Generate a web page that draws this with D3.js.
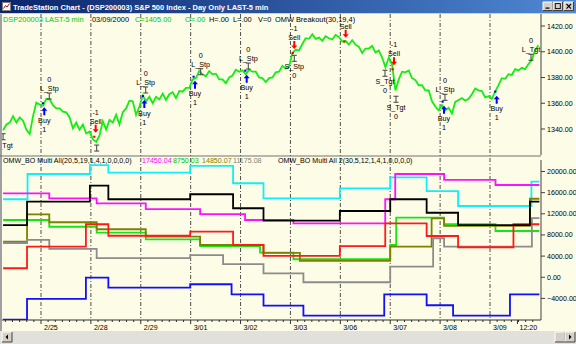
<!DOCTYPE html>
<html><head><meta charset="utf-8">
<script src="https://cdn.jsdelivr.net/npm/d3@7/dist/d3.min.js"></script>
<style>
html,body{margin:0;padding:0;background:#fff;}
svg{display:block;font-family:"Liberation Sans",Arial,sans-serif;}
</style></head><body>
<svg id="chart" width="576" height="344"></svg>
<script>
// ---------- data ----------
const windowTitle = "TradeStation Chart - (DSP200003) S&P 500 Index - Day Only LAST-5 min";
const dayLabels = ["2/25","2/28","2/29","3/01","3/02","3/03","3/06","3/07","3/08","3/09"];
const lastTimeLabel = "12:20";
const lastTimeT = 9.55;              // session position of the last bar time label (trading days from 2/25 open)
const priceStartT = -0.76, priceEndT = 9.97, equityEndT = 9.99;

// S&P 500 5-minute closes, sampled along the session axis
const closes = [
 1339,1343.5,1345,1350,1345,1349,1346.5,1339.5,1336,1350,
 1360.5,1359,1358,1363.5,1363,1358.5,1356,1356,1353.5,1353,
 1349,1340.5,1345,1339.5,1343.5,1336.5,1338,1332,1330,1335,
 1346,1339.5,1347,1345,1351,1343.5,1353,1356,1362,1361.5,
 1351,1357.5,1366,1361.5,1365,1360,1365,1363,1367.5,1362.5,
 1367,1368.5,1364,1369.5,1369,1372,1372,1378.5,1379.5,1385,
 1382.5,1381,1385,1382.5,1383,1378.5,1378.5,1375.5,1380,1381.5,
 1386,1384.5,1385.5,1382.5,1386,1384.5,1384.5,1380,1379.5,1376.5,
 1379.5,1380,1384,1384.5,1389,1387,1388,1399,1401.5,1401,
 1406,1410.5,1410,1413.5,1410,1411,1408.5,1412,1410.5,1409.5,
 1413,1411.5,1408,1408.5,1405.5,1409,1405.5,1404,1399,1402.5,
 1402.5,1404.5,1399.5,1401,1395.5,1388,1395.5,1390,1370,1378.5,
 1384.5,1384,1385.5,1379.5,1378,1374,1374,1370,1370,1361.5,
 1357.5,1354.5,1358.5,1354.5,1356.5,1352,1361,1362.5,1364,1362,
 1363.5,1367,1371.5,1370,1369.5,1364.5,1365.5,1363.5,1369,1374,
 1379.5,1379,1382.5,1382,1386.5,1385.5,1387.5,1386.5,1390.5,1393.5,
 1401,1405
];
const priceTicks = [1340,1360,1380,1400,1420];
const equityTicks = [-4000,0,4000,8000,12000,16000,20000];

// strategy signals: t = session position, price = signal price
const buySignals  = [
  {t:0.066,price:1360.0},{t:2.071,price:1365.6},{t:3.087,price:1380.6},
  {t:4.123,price:1385.3},{t:8.078,price:1361.2},{t:9.134,price:1369.0}];
const sellSignals = [
  {t:1.096,price:1334.0,qty:"-1"},{t:5.077,price:1399.0,qty:"-1"},
  {t:6.107,price:1407.8,qty:""},{t:7.076,price:1386.4,qty:"-1"}];
const longExits  = [
  {t:0.166,price:1365.6,label:"L_Stp"},{t:2.099,price:1370.3,label:"L_Stp"},
  {t:3.201,price:1384.5,label:"L_Stp"},{t:4.155,price:1388.9,label:"L_Stp"},
  {t:8.098,price:1364.6,label:"L_Stp"},{t:9.822,price:1395.7,label:"L_Tgt"}];
const shortExits = [
  {t:-0.76,price:1334.0,label:"S_Tgt"},{t:1.116,price:1325.2,label:""},
  {t:5.077,price:1394.9,label:"S_Stp"},{t:6.895,price:1383.3,label:"S_Tgt"},
  {t:7.116,price:1363.1,label:"S_Tgt"}];

// equity step series [session position, value]
const cyanEq    = [[-0.76,14750],[-0.27,19525],[0.98,21200],[1.35,19775],[2.99,21050],[3.85,17775],[4.46,14925],[5.99,16825],[7.0,18900],[7.73,16300],[8.36,13475],[9.83,18075]];
const magentaEq = [[-0.76,15875],[0.166,14925],[1.116,13975],[2.1,12900],[3.19,11950],[4.09,10825],[5.06,10200],[6.9,14750],[7.1,19525],[8.08,18400],[9.11,17450.04]];
const greenEq   = [[-0.76,10825],[0.166,9550],[1.116,8425],[2.1,7175],[3.19,5900],[4.39,4650],[5.06,3400],[7.0,6100],[7.12,11275],[8.08,10025],[9.11,8750.03]];
const oliveEq   = [[-0.76,6725],[-0.28,11900],[0.166,10400],[1.116,9075],[2.1,7675],[3.19,6100],[4.46,4600],[5.19,3125],[7.0,5775],[7.83,11150],[8.08,9700],[9.80,14850.07]];
const grayEq    = [[-0.76,6475],[-0.28,7050],[0.166,5350],[1.116,3600],[2.99,4200],[3.65,2500],[4.46,750],[5.26,-950],[7.0,2000],[7.86,7375],[8.08,5775],[9.84,11175.08]];
const redEq     = [[-0.76,1700],[-0.28,5775],[0.90,10025],[1.35,7850],[2.99,8625],[3.85,6100],[4.46,4025],[5.99,5900],[6.9,10200],[7.73,7800],[8.36,5675],[9.47,10025]];
const blueEq    = [[-0.76,-8000],[-0.28,-4100],[0.90,-75],[1.35,-1975],[2.99,-1325],[3.82,-3225],[4.46,-5375],[5.26,-7275],[6.88,-3225],[7.73,-5300],[8.26,-7275],[9.40,-3225]];
const blackEq   = [[-0.76,9875],[-0.28,14300],[0.98,17325],[1.35,14750],[2.99,15700],[3.85,13050],[4.46,10700],[5.99,12525],[7.0,14750],[7.73,12200],[8.36,9875],[9.80,14300]];

const headerFields = [
  {text:"DSP200003 LAST-5 min", color:"#00c800"},
  {text:"03/09/2000", color:"#000"},
  {text:"C=", color:"#00c800", close:true},
  {text:"O=.00", color:"#00c800"},
  {text:"H=.00", color:"#000"},
  {text:"L=.00", color:"#000"},
  {text:"V=0", color:"#000"},
  {text:"OMW Breakout(30,19,4)", color:"#000"}];
const headerX = [3, 92, 135, 185, 209, 233, 258, 275];

// ---------- layout ----------
const W = 576, H = 344;
const plotL = 2, plotR = 541;
const upTop = 14, upBot = 155, loTop = 157, loBot = 320;
const FS = 7.4, FS_AX = 7.1, FS_MK = 7.2;
const bg = "#fdfce6";

const svg = d3.select("#chart");
const defs = svg.append("defs");

const x  = d3.scaleLinear().domain([0, 9]).range([41, 490]);
const yP = d3.scaleLinear().domain([1340, 1420]).range([129, 26]);
const yE = d3.scaleLinear().domain([-4000, 20000]).range([298.4, 171.5]);
const fmt2 = d3.format(".2f");

// window background
svg.append("rect").attr("width", W).attr("height", H).attr("fill", bg);

// title bar
const tg = defs.append("linearGradient").attr("id","tb").attr("x1","0").attr("x2","1");
tg.append("stop").attr("offset","0").attr("stop-color","#0a246a");
tg.append("stop").attr("offset","1").attr("stop-color","#4f88d4");
svg.append("rect").attr("x",0).attr("y",0).attr("width",W).attr("height",13).attr("fill","url(#tb)");
svg.append("rect").attr("x",0).attr("y",13).attr("width",W).attr("height",1).attr("fill","#d4d0c8");
const icon = svg.append("g");
icon.append("rect").attr("x",2.5).attr("y",2.5).attr("width",8).attr("height",8).attr("fill","#fff").attr("stroke","#808080");
icon.append("path").attr("d","M3.5,8.5 L5.5,5.5 L7,7 L9.5,3.5").attr("fill","none").attr("stroke","#d00000").attr("stroke-width",1);
svg.append("text").attr("x",13).attr("y",9.6).attr("fill","#fff").attr("font-weight","bold")
  .attr("font-size",7.5).text(windowTitle);
const btnX = [543, 553, 564];
btnX.forEach((bx, i) => {
  const b = svg.append("g");
  b.append("rect").attr("x",bx).attr("y",2).attr("width",9.5).attr("height",8.5).attr("fill","#d4d0c8");
  b.append("path").attr("d",`M${bx},${10.5} V2 H${bx+9.5}`).attr("fill","none").attr("stroke","#fff");
  b.append("path").attr("d",`M${bx},${10.5} H${bx+9.5} V2`).attr("fill","none").attr("stroke","#404040");
  if (i === 0) b.append("rect").attr("x",bx+2.5).attr("y",7.5).attr("width",4).attr("height",1.2).attr("fill","#000");
  if (i === 1) b.append("rect").attr("x",bx+2.3).attr("y",3.6).attr("width",5).attr("height",5).attr("fill","none").attr("stroke","#000").attr("stroke-width",0.9);
  if (i === 2) b.append("path").attr("d",`M${bx+2.5},4 L${bx+7},8.6 M${bx+7},4 L${bx+2.5},8.6`).attr("stroke","#000").attr("stroke-width",1.1);
});

// left frame edge
svg.append("rect").attr("x",0).attr("y",14).attr("width",2).attr("height",317).attr("fill","#a0a0a0");

// clip regions
defs.append("clipPath").attr("id","cu").append("rect").attr("x",plotL).attr("y",upTop).attr("width",plotR-plotL).attr("height",upBot-upTop);
defs.append("clipPath").attr("id","cl").append("rect").attr("x",plotL).attr("y",loTop).attr("width",plotR-plotL).attr("height",loBot-loTop);

// day separators (dash-dot)
const grid = svg.append("g");
d3.range(dayLabels.length).forEach(i => {
  grid.append("line").attr("x1",x(i)).attr("x2",x(i)).attr("y1",upTop).attr("y2",loBot)
    .attr("stroke","#3a3a3a").attr("stroke-width",0.9).attr("stroke-dasharray","4,2,1,2");
});

// pane separator and right axis lines
svg.append("line").attr("x1",0).attr("x2",plotR).attr("y1",156).attr("y2",156).attr("stroke","#707070");
svg.append("line").attr("x1",plotR).attr("x2",plotR).attr("y1",upTop).attr("y2",upBot).attr("stroke","#404040");
svg.append("line").attr("x1",plotR).attr("x2",plotR).attr("y1",loTop+3).attr("y2",loBot).attr("stroke","#404040");

// right axis labels
const axisG = svg.append("g").attr("font-size",FS_AX).attr("fill","#000");
priceTicks.forEach(v => {
  axisG.append("line").attr("x1",plotR).attr("x2",plotR+4).attr("y1",yP(v)).attr("y2",yP(v)).attr("stroke","#404040");
  axisG.append("text").attr("x",547).attr("y",yP(v)+2.5).text(fmt2(v));
});
equityTicks.forEach(v => {
  axisG.append("line").attr("x1",plotR).attr("x2",plotR+4).attr("y1",yE(v)).attr("y2",yE(v)).attr("stroke","#404040");
  axisG.append("text").attr("x",547).attr("y",yE(v)+2.5).text(fmt2(v));
});

// ---------- upper pane: price ----------
const up = svg.append("g").attr("clip-path","url(#cu)");
const tIdx = d3.scaleLinear().domain([0, closes.length - 1]).range([priceStartT, priceEndT]);
up.append("path").datum(closes)
  .attr("d", d3.line().x((d,i) => x(tIdx(i))).y(d => yP(d)))
  .attr("fill","none").attr("stroke","#12ee12").attr("stroke-width",1.8).attr("stroke-linejoin","miter");

const mk = up.append("g").attr("font-size",FS_MK).attr("text-anchor","middle").attr("fill","#000");
// buy entries: entry tick, up arrow, label and position size
buySignals.forEach(s => {
  const cx = x(s.t), cy = yP(s.price);
  mk.append("rect").attr("x",cx-2.5).attr("y",cy-1).attr("width",2.2).attr("height",2).attr("fill","#0000ff");
  const a = cy + 4;
  mk.append("path").attr("d",`M${cx},${a} L${cx+3},${a+3.5} L${cx+1},${a+3.5} L${cx+1},${a+8} L${cx-1},${a+8} L${cx-1},${a+3.5} L${cx-3},${a+3.5} Z`).attr("fill","#0000ff");
  mk.append("text").attr("x",cx).attr("y",cy+17+2.5).text("Buy");
  mk.append("text").attr("x",cx).attr("y",cy+26+2.5).text("1");
});
// sell entries
sellSignals.forEach(s => {
  const cx = x(s.t), cy = yP(s.price);
  mk.append("rect").attr("x",cx-2.5).attr("y",cy-1).attr("width",2.2).attr("height",2).attr("fill","#ff0000");
  const a = cy - 4;
  mk.append("path").attr("d",`M${cx},${a} L${cx+3},${a-3.5} L${cx+1},${a-3.5} L${cx+1},${a-8} L${cx-1},${a-8} L${cx-1},${a-3.5} L${cx-3},${a-3.5} Z`).attr("fill","#ff0000");
  mk.append("text").attr("x",cx).attr("y",cy-15.5+2.5).text("Sell");
  if (s.qty) mk.append("text").attr("x",cx).attr("y",cy-24.5+2.5).text(s.qty);
});
function ibeam(cx, cy) {
  mk.append("path").attr("d",`M${cx-2.5},${cy-3} H${cx+2.5} M${cx},${cy-3} V${cy+3} M${cx-2.5},${cy+3} H${cx+2.5}`)
    .attr("stroke","#404040").attr("stroke-width",1).attr("fill","none");
}
longExits.forEach(s => {
  const cx = x(s.t), cy = yP(s.price);
  ibeam(cx, cy);
  mk.append("text").attr("x",cx).attr("y",cy-7.5+2.5).text(s.label);
  mk.append("text").attr("x",cx).attr("y",cy-16.5+2.5).text("0");
});
shortExits.forEach(s => {
  const cx = x(s.t), cy = yP(s.price);
  ibeam(cx, cy);
  if (!s.label) return;
  mk.append("text").attr("x",cx).attr("y",cy+8.5+2.5).text(s.label);
  if (cy + 17.5 < upBot - 3) mk.append("text").attr("x",cx).attr("y",cy+17.5+2.5).text("0");
});

// header row
const hdr = svg.append("g").attr("font-size",FS);
headerFields.forEach((f, i) => {
  hdr.append("text").attr("x",headerX[i]).attr("y",22).attr("fill",f.color)
    .text(f.close ? f.text + fmt2(closes[closes.length-1]) : f.text);
});

// ---------- lower pane: equity curves ----------
const lo = svg.append("g").attr("clip-path","url(#cl)");
const stepLine = d3.line().x(d => x(d[0])).y(d => yE(d[1])).curve(d3.curveStepAfter);
const series = [
  {data:cyanEq,    color:"#10eef6"},
  {data:magentaEq, color:"#ff10ff"},
  {data:greenEq,   color:"#14e614"},
  {data:oliveEq,   color:"#808000"},
  {data:grayEq,    color:"#8c8c8c"},
  {data:redEq,     color:"#ff1a1a"},
  {data:blueEq,    color:"#1010ff"},
  {data:blackEq,   color:"#000000"}];
series.forEach(s => {
  const pts = s.data.concat([[equityEndT, s.data[s.data.length-1][1]]]);
  lo.append("path").datum(pts).attr("d", stepLine)
    .attr("fill","none").attr("stroke",s.color).attr("stroke-width",1.8);
});

// legend row
const last = a => a[a.length-1][1];
const legend = [
  {x:3,   text:"OMW_BO Multi All(20,5,19,1,4,1,0,0,0,0)", color:"#000"},
  {x:142, text:fmt2(last(magentaEq)), color:"#ff00ff"},
  {x:173, text:fmt2(last(greenEq)),   color:"#00c000"},
  {x:202, text:fmt2(last(oliveEq)),   color:"#808000"},
  {x:233, text:fmt2(last(grayEq)),    color:"#808080"},
  {x:278, text:"OMW_BO Multi All 2(30,5,12,1,4,1,0,0,0,0)", color:"#000"}];
const lg = svg.append("g").attr("font-size",FS_AX);
legend.forEach(l => lg.append("text").attr("x",l.x).attr("y",163.3).attr("fill",l.color).text(l.text));

// ---------- time axis ----------
svg.append("line").attr("x1",plotL).attr("x2",plotR).attr("y1",loBot).attr("y2",loBot).attr("stroke","#303030");
const ax = svg.append("g").attr("font-size",FS_AX).attr("fill","#000");
d3.range(-1, 10).forEach(d => {
  d3.range(0, 7).forEach(k => {
    const t = d + k / 7;
    if (t < priceStartT || t > equityEndT) return;
    ax.append("line").attr("x1",x(t)).attr("x2",x(t)).attr("y1",loBot).attr("y2",loBot + (k === 0 ? 4 : 2))
      .attr("stroke","#303030");
  });
});
dayLabels.forEach((lbl, i) => ax.append("text").attr("x",x(i)+3).attr("y",329.5).text(lbl));
ax.append("line").attr("x1",x(lastTimeT)).attr("x2",x(lastTimeT)).attr("y1",loBot).attr("y2",loBot+4).attr("stroke","#303030");
ax.append("text").attr("x",x(lastTimeT)+2).attr("y",329.5).text(lastTimeLabel);

// ---------- scrollbar ----------
svg.append("rect").attr("x",0).attr("y",331).attr("width",W).attr("height",13).attr("fill","#e2e0da");
function sbButton(bx, glyph) {
  const g = svg.append("g");
  g.append("rect").attr("x",bx).attr("y",332).attr("width",10).attr("height",10).attr("fill","#d4d0c8");
  g.append("path").attr("d",`M${bx},342 V332 H${bx+10}`).attr("fill","none").attr("stroke","#fff");
  g.append("path").attr("d",`M${bx},342 H${bx+10} V332`).attr("fill","none").attr("stroke","#404040");
  if (glyph === "left") g.append("path").attr("d",`M${bx+3.5},337 L${bx+6},334.5 L${bx+6},339.5 Z`).attr("fill","#000");
  if (glyph === "right") g.append("path").attr("d",`M${bx+6.5},337 L${bx+4},334.5 L${bx+4},339.5 Z`).attr("fill","#000");
}
sbButton(2, "left");
sbButton(555, "");
sbButton(565, "right");
</script>
</body></html>
